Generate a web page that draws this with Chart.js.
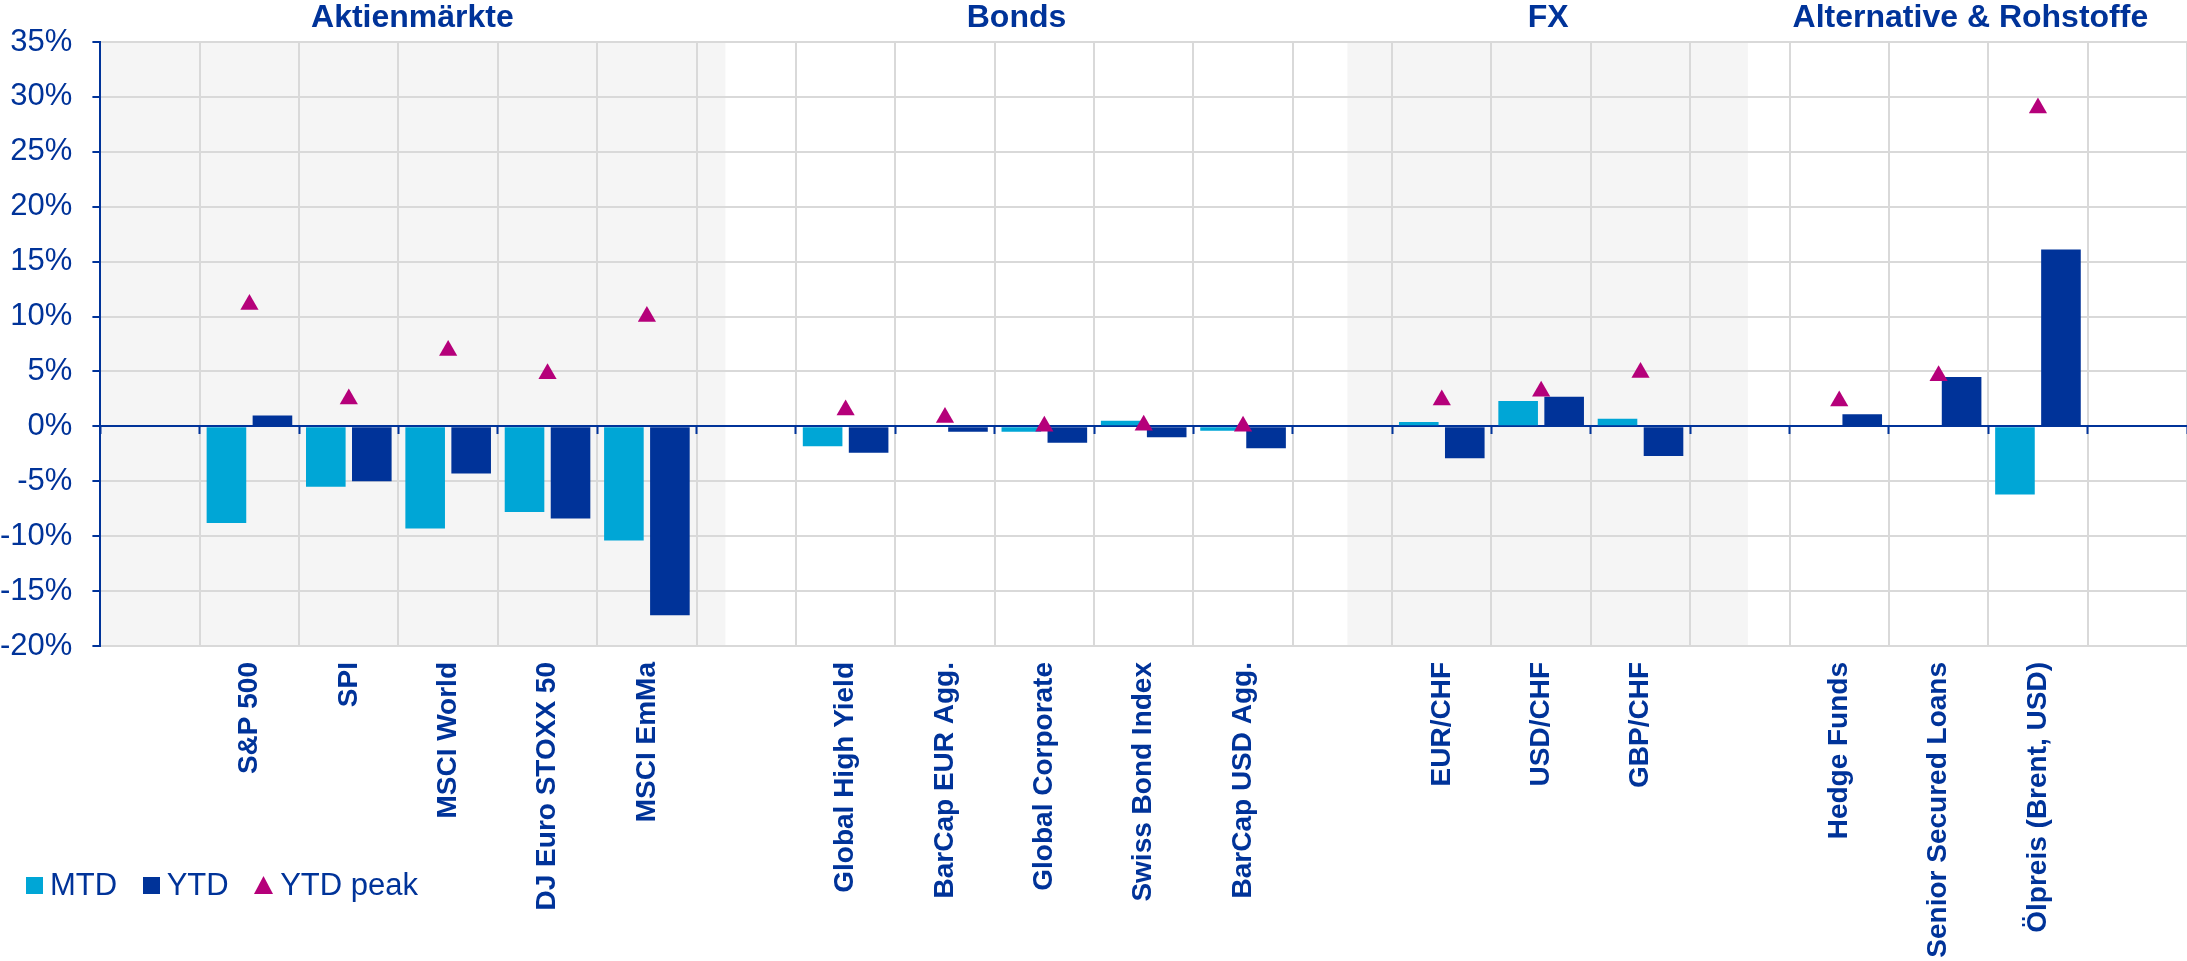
<!DOCTYPE html>
<html>
<head>
<meta charset="utf-8">
<script src="https://cdn.jsdelivr.net/npm/chart.js@4/dist/chart.umd.min.js"></script>
<style>
  html, body { margin: 0; padding: 0; background: #fff; }
  .wrap { position: relative; width: 2187px; height: 961px; }
  #legend {
    position: absolute; left: 26px; top: 870px; height: 30px;
    display: flex; align-items: center;
    font: 31px "Liberation Sans", Arial, sans-serif; line-height: 30px; color: #003399;
  }
  .item { display: flex; align-items: center; margin-right: 25.5px; }
  .item span.txt { margin-left: 7px; }
  .box { display: inline-block; width: 17px; height: 17px; }
</style>
</head>
<body>
<div class="wrap">
  <canvas id="myChart" width="2187" height="961"></canvas>
  <div id="legend"></div>
</div>
<script>
// categories (empty ones are the spacers between the groups)
const categories = ['', 'S&P 500', 'SPI', 'MSCI World', 'DJ Euro STOXX 50', 'MSCI EmMa', '',
  'Global High Yield', 'BarCap EUR Agg.', 'Global Corporate', 'Swiss Bond Index', 'BarCap USD Agg.', '',
  'EUR/CHF', 'USD/CHF', 'GBP/CHF', '',
  'Hedge Funds', 'Senior Secured Loans', 'Ölpreis (Brent, USD)', ''];

const mtd = [null, -8.8, -5.5, -9.3, -7.8, -10.4, null,
  -1.8, 0.1, -0.5, 0.5, -0.4, null,
  0.4, 2.3, 0.7, null,
  0, 0.1, -6.2, null];

const ytd = [null, 1.0, -5.0, -4.3, -8.4, -17.2, null,
  -2.4, -0.5, -1.5, -1.0, -2.0, null,
  -2.9, 2.7, -2.7, null,
  1.1, 4.5, 16.1, null];

const ytdPeak = [null, 11.1, 2.5, 6.9, 4.8, 10.0, null,
  1.5, 0.8, 0.0, 0.1, 0.0, null,
  2.4, 3.2, 4.9, null,
  2.3, 4.6, 29.0, null];

const groupNames = ['Aktienmärkte', 'Bonds', 'FX', 'Alternative & Rohstoffe'];
const yTicks = { min: -20, max: 35, step: 5 };

// layout of the group bands / titles, in category units from the left edge
const bandEdges = [0, 6.29, 12.55, 16.58, 21];
const bandColors = ['#F5F5F5', 'rgba(0,0,0,0)', '#F5F5F5', 'rgba(0,0,0,0)'];
const titleCenters = [3.14, 9.22, 14.57, 18.82];

const DARK = '#003399';
const GRID = '#D9D9D9';

Chart.defaults.font.family = '"Liberation Sans", Arial, sans-serif';

// gray / white bands behind the plot and the group titles above it
const groupPlugin = {
  id: 'groups',
  beforeDraw(chart) {
    const ctx = chart.ctx;
    const x = chart.scales.x;
    const area = chart.chartArea;
    ctx.save();
    for (let i = 0; i < bandColors.length; i++) {
      const x1 = x.getPixelForDecimal(bandEdges[i] / categories.length);
      const x2 = x.getPixelForDecimal(bandEdges[i + 1] / categories.length);
      ctx.fillStyle = bandColors[i];
      ctx.fillRect(x1, area.top, x2 - x1, area.bottom - area.top);
    }
    ctx.restore();
  },
  afterDraw(chart) {
    const ctx = chart.ctx;
    const x = chart.scales.x;
    ctx.save();
    ctx.fillStyle = DARK;
    ctx.font = 'bold 32px "Liberation Sans", Arial, sans-serif';
    ctx.textAlign = 'center';
    ctx.textBaseline = 'alphabetic';
    groupNames.forEach((name, i) => {
      ctx.fillText(name, x.getPixelForDecimal(titleCenters[i] / categories.length), 27);
    });
    ctx.restore();
  }
};

const ctx = document.getElementById('myChart').getContext('2d');
const chart = new Chart(ctx, {
  type: 'bar',
  data: {
    labels: categories,
    datasets: [{
      label: 'MTD',
      data: mtd,
      backgroundColor: '#00A6D6',
      pointStyle: 'rect',
      categoryPercentage: 0.926,
      barPercentage: 0.861,
      xAxisID: 'x',
      yAxisID: 'y',
      order: 1
    }, {
      label: 'YTD',
      data: ytd,
      backgroundColor: '#003399',
      pointStyle: 'rect',
      categoryPercentage: 0.926,
      barPercentage: 0.861,
      xAxisID: 'x',
      yAxisID: 'y',
      order: 1
    }, {
      type: 'line',
      label: 'YTD peak',
      data: ytdPeak,
      showLine: false,
      pointStyle: 'triangle',
      pointRadius: 10.5,
      pointBorderWidth: 0,
      borderWidth: 0,
      backgroundColor: '#B5007A',
      borderColor: '#B5007A',
      xAxisID: 'x',
      yAxisID: 'y',
      order: 0
    }]
  },
  options: {
    responsive: false,
    devicePixelRatio: 1,
    animation: false,
    layout: { autoPadding: false, padding: { top: 42, left: 0, right: 0, bottom: 0 } },
    scales: {
      x: {
        type: 'category',
        position: 'bottom',
        offset: true,
        grid: { offset: true, color: GRID, lineWidth: 2, drawTicks: false },
        border: { color: GRID, width: 2 },
        ticks: {
          autoSkip: false,
          minRotation: 90,
          maxRotation: 90,
          padding: 16,
          color: DARK,
          font: { size: 28, weight: 'bold' }
        },
        afterFit: (scale) => { scale.height = 315; }
      },
      y: {
        min: yTicks.min,
        max: yTicks.max,
        ticks: {
          stepSize: yTicks.step,
          callback: (v) => v + '%',
          color: DARK,
          padding: 20,
          font: { size: 31 }
        },
        grid: {
          color: (c) => (c.tick && c.tick.value === 0) ? 'rgba(0,0,0,0)' : GRID,
          lineWidth: 2,
          tickColor: DARK,
          tickLength: 8,
          tickWidth: 2
        },
        border: { color: DARK, width: 2 },
        afterFit: (scale) => { scale.width = 100.4; }
      },
      // zero line with its small tick marks
      x2: {
        type: 'category',
        position: { y: 0 },
        offset: true,
        grid: { offset: true, drawOnChartArea: false, drawTicks: true, tickLength: 7, tickColor: DARK, tickWidth: 2 },
        border: { color: DARK, width: 2 },
        ticks: { display: false }
      }
    },
    plugins: {
      tooltip: { enabled: false },
      legend: { display: false }
    }
  },
  plugins: [groupPlugin]
});

// legend below the y axis, built from the datasets
const legendDiv = document.getElementById('legend');
chart.data.datasets.forEach((ds) => {
  const item = document.createElement('div');
  item.className = 'item';
  let marker;
  if (ds.pointStyle === 'triangle') {
    marker = document.createElementNS('http://www.w3.org/2000/svg', 'svg');
    marker.setAttribute('width', '19');
    marker.setAttribute('height', '18');
    marker.innerHTML = '<polygon points="9.5,0 19,18 0,18" fill="' + ds.backgroundColor + '"/>';
  } else {
    marker = document.createElement('span');
    marker.className = 'box';
    marker.style.background = ds.backgroundColor;
  }
  const txt = document.createElement('span');
  txt.className = 'txt';
  txt.textContent = ds.label;
  item.appendChild(marker);
  item.appendChild(txt);
  legendDiv.appendChild(item);
});
</script>
</body>
</html>
